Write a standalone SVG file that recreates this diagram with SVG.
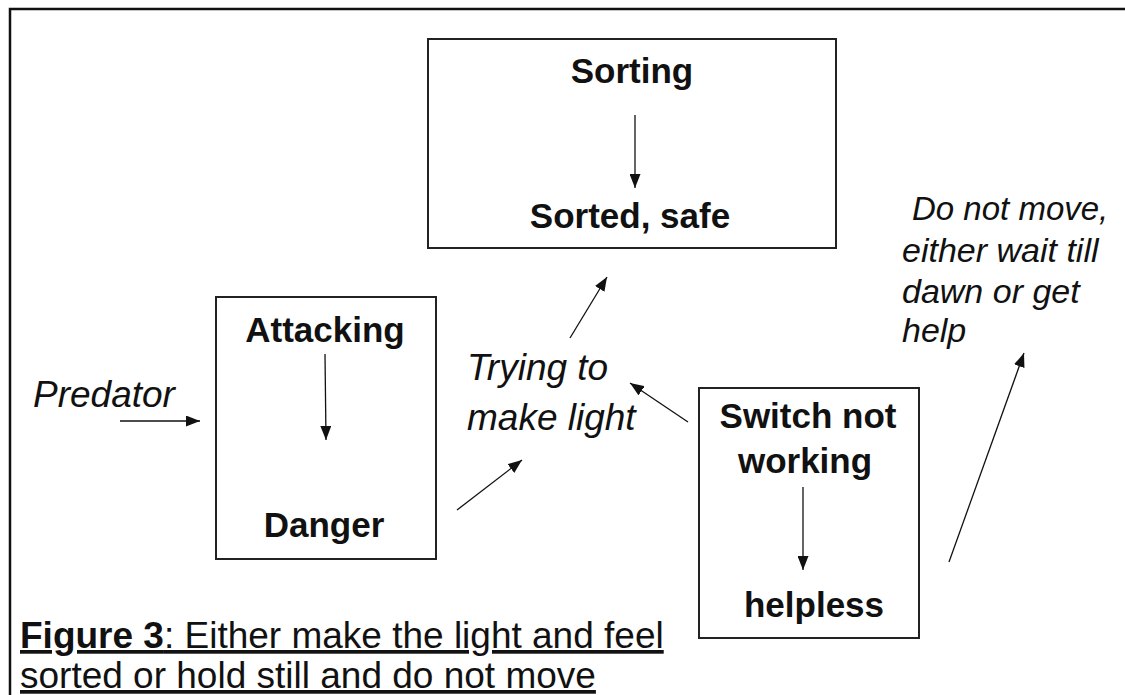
<svg xmlns="http://www.w3.org/2000/svg" width="1125" height="695" viewBox="0 0 1125 695">
<defs>
<marker id="ah" viewBox="0 0 14 11" refX="14" refY="5.5" markerWidth="14" markerHeight="11" markerUnits="userSpaceOnUse" orient="auto">
<path d="M0,0 L14,5.5 L0,11 Z" fill="#111"/>
</marker>
</defs>
<style>
.box{fill:#fff;stroke:#222;stroke-width:2}
.b{font-family:"Liberation Sans",Arial,sans-serif;font-weight:bold;font-size:35px;fill:#111;text-anchor:middle}
.i{font-family:"Liberation Sans",Arial,sans-serif;font-style:italic;fill:#111}
.cap{font-family:"Liberation Sans",Arial,sans-serif;font-size:37px;fill:#111;text-decoration:underline}
.c{stroke:#111;stroke-width:1.3;fill:none;marker-end:url(#ah)}
</style>
<rect width="1125" height="695" fill="#fff"/>
<rect x="10" y="9" width="1140" height="720" fill="none" stroke="#111" stroke-width="2.5"/>
<g id="sorting">
<rect class="box" x="428" y="39" width="408" height="209"/>
<text class="b" x="632" y="83">Sorting</text>
<text class="b" x="630" y="228">Sorted, safe</text>
</g>
<g id="attacking">
<rect class="box" x="216" y="297" width="220" height="262"/>
<text class="b" x="325" y="342">Attacking</text>
<text class="b" x="324" y="537">Danger</text>
</g>
<g id="switch">
<rect class="box" x="699" y="388" width="220" height="250"/>
<text class="b" x="808" y="428">Switch not</text>
<text class="b" x="805" y="473">working</text>
<text class="b" x="814" y="617">helpless</text>
</g>
<g id="predator">
<text class="i" x="33" y="407" font-size="37">Predator</text>
</g>
<g id="trying">
<text class="i" x="467" y="380" font-size="37">Trying to</text>
<text class="i" x="467" y="430" font-size="37">make light</text>
</g>
<g id="donotmove">
<text class="i" x="912" y="220" font-size="33">Do not move,</text>
<text class="i" x="902" y="262" font-size="34">either wait till</text>
<text class="i" x="902" y="303" font-size="34">dawn or get</text>
<text class="i" x="902" y="342" font-size="34">help</text>
</g>
<g id="connectors">
<line class="c" x1="120" y1="421" x2="200" y2="421"/>
<line class="c" x1="325" y1="354" x2="326" y2="440"/>
<line class="c" x1="635" y1="115" x2="635" y2="188"/>
<line class="c" x1="803" y1="487" x2="803" y2="570"/>
<line class="c" x1="457" y1="510" x2="522" y2="460"/>
<line class="c" x1="570" y1="338" x2="607" y2="277"/>
<line class="c" x1="688" y1="422" x2="630" y2="383"/>
<line class="c" x1="949" y1="562" x2="1024" y2="353"/>
</g>
<g id="caption">
<text class="cap" x="20" y="648"><tspan font-weight="bold">Figure 3</tspan>: Either make the light and feel</text>
<text class="cap" x="20" y="688">sorted or hold still and do not move</text>
</g>
</svg>
